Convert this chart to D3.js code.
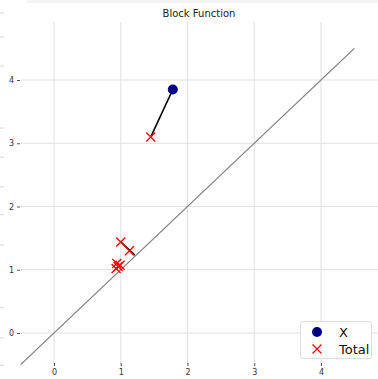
<!DOCTYPE html>
<html>
<head>
<meta charset="utf-8">
<script src="https://cdn.jsdelivr.net/npm/d3@7"></script>
<style>
  body { margin: 0; background: #fff; }
  svg { display: block; font-family: "DejaVu Sans", sans-serif; }
</style>
</head>
<body>
<div id="chart-area"></div>
<script>
// data
var xPoints = [{x: 1.78, y: 3.85}];
var totalPoints = [
  {x: 1.45, y: 3.10},
  {x: 1.00, y: 1.44},
  {x: 1.13, y: 1.30},
  {x: 0.94, y: 1.10},
  {x: 0.99, y: 1.07},
  {x: 0.93, y: 1.02},
  {x: 0.96, y: 1.05}
];
var segments = [
  [{x: 1.78, y: 3.85}, {x: 1.45, y: 3.10}],
  [{x: 1.00, y: 1.44}, {x: 1.21, y: 1.23}]
];
var diagonal = [-0.5, 4.5];
var xTicks = [0, 1, 2, 3, 4];
var yTicks = [0, 1, 2, 3, 4];
// faint leftover ticks on the far left edge
var ghostTicks = [5.06, 4.68, 4.22, 3.24, 2.78, 2.31, 1.87, 1.39, 0.40, -0.08, -0.51];

var W = 378, H = 379;

var svg = d3.select("#chart-area")
  .append("svg")
  .attr("width", W)
  .attr("height", H);

// scales
var x = d3.scaleLinear().domain([0, 4]).range([54, 321]);
var y = d3.scaleLinear().domain([0, 4]).range([333, 80]);

var plotTop = 22, plotBottom = 366, plotLeft = 21, plotRight = 378;

// top band
svg.append("rect")
  .attr("x", 27).attr("y", 0)
  .attr("width", W - 27).attr("height", 3)
  .attr("fill", "#f3f3f3");

// ghost ticks
svg.append("g")
  .selectAll("line")
  .data(ghostTicks)
  .enter()
  .append("line")
  .attr("x1", 0).attr("x2", 4)
  .attr("y1", d => y(d)).attr("y2", d => y(d))
  .attr("stroke", "#d8d8d8")
  .attr("stroke-width", 1);

// grid
svg.append("g")
  .selectAll("line")
  .data(xTicks)
  .enter()
  .append("line")
  .attr("x1", d => x(d)).attr("x2", d => x(d))
  .attr("y1", plotTop).attr("y2", plotBottom)
  .attr("stroke", "#e0e0e0")
  .attr("stroke-width", 1);

svg.append("g")
  .selectAll("line")
  .data(yTicks)
  .enter()
  .append("line")
  .attr("x1", plotLeft).attr("x2", plotRight)
  .attr("y1", d => y(d)).attr("y2", d => y(d))
  .attr("stroke", "#e0e0e0")
  .attr("stroke-width", 1);

// axes
var leftAxis = d3.axisLeft(y).tickValues(yTicks).tickSize(3).tickPadding(3).tickFormat(d3.format("d"));
var gy = svg.append("g")
  .attr("transform", "translate(" + 20 + ",0)")
  .call(leftAxis);

var bottomAxis = d3.axisBottom(x).tickValues(xTicks).tickSize(3).tickPadding(3).tickFormat(d3.format("d"));
var gx = svg.append("g")
  .attr("transform", "translate(0," + 363 + ")")
  .call(bottomAxis);

[gx, gy].forEach(function(g) {
  g.select(".domain").remove();
  g.selectAll(".tick line").attr("stroke", "#555");
  g.selectAll(".tick text").attr("fill", "#333").style("font-size", "8px").style("font-family", "DejaVu Sans");
});

// title
svg.append("text")
  .attr("x", 199).attr("y", 17)
  .attr("text-anchor", "middle")
  .style("font-size", "10px")
  .attr("fill", "#222")
  .text("Block Function");

// diagonal
svg.append("line")
  .attr("x1", x(diagonal[0])).attr("y1", y(diagonal[0]))
  .attr("x2", x(diagonal[1])).attr("y2", y(diagonal[1]))
  .attr("stroke", "#808080")
  .attr("stroke-width", 1.3);

// segments
svg.append("g")
  .selectAll("line")
  .data(segments)
  .enter()
  .append("line")
  .attr("x1", d => x(d[0].x)).attr("y1", d => y(d[0].y))
  .attr("x2", d => x(d[1].x)).attr("y2", d => y(d[1].y))
  .attr("stroke", "#000")
  .attr("stroke-width", 1.6);

// crosses
var cs = 4.5;
function cross(g, cx, cy, s) {
  g.append("path")
    .attr("d", "M" + (cx - s) + "," + (cy - s) + "L" + (cx + s) + "," + (cy + s) +
               "M" + (cx - s) + "," + (cy + s) + "L" + (cx + s) + "," + (cy - s))
    .attr("stroke", "red")
    .attr("stroke-width", 1.3)
    .attr("fill", "none");
}
var gc = svg.append("g");
totalPoints.forEach(function(d) { cross(gc, x(d.x), y(d.y), cs); });

// circles
svg.append("g")
  .selectAll("circle")
  .data(xPoints)
  .enter()
  .append("circle")
  .attr("cx", d => x(d.x))
  .attr("cy", d => y(d.y))
  .attr("r", 5)
  .attr("fill", "#000080");

// legend
var lg = svg.append("g").attr("transform", "translate(300,321)");
lg.append("rect")
  .attr("x", 0.5).attr("y", 0.5)
  .attr("width", 71).attr("height", 37)
  .attr("rx", 2)
  .attr("fill", "#fff")
  .attr("fill-opacity", 0.85)
  .attr("stroke", "#dcdcdc");
lg.append("circle").attr("cx", 17).attr("cy", 11).attr("r", 5).attr("fill", "#000080");
cross(lg, 17, 28, 4.5);
lg.append("text").attr("x", 39).attr("y", 15.5).style("font-size", "13px").attr("fill", "#111").text("X");
lg.append("text").attr("x", 39).attr("y", 32.5).style("font-size", "13px").attr("fill", "#111").text("Total");
</script>
</body>
</html>
